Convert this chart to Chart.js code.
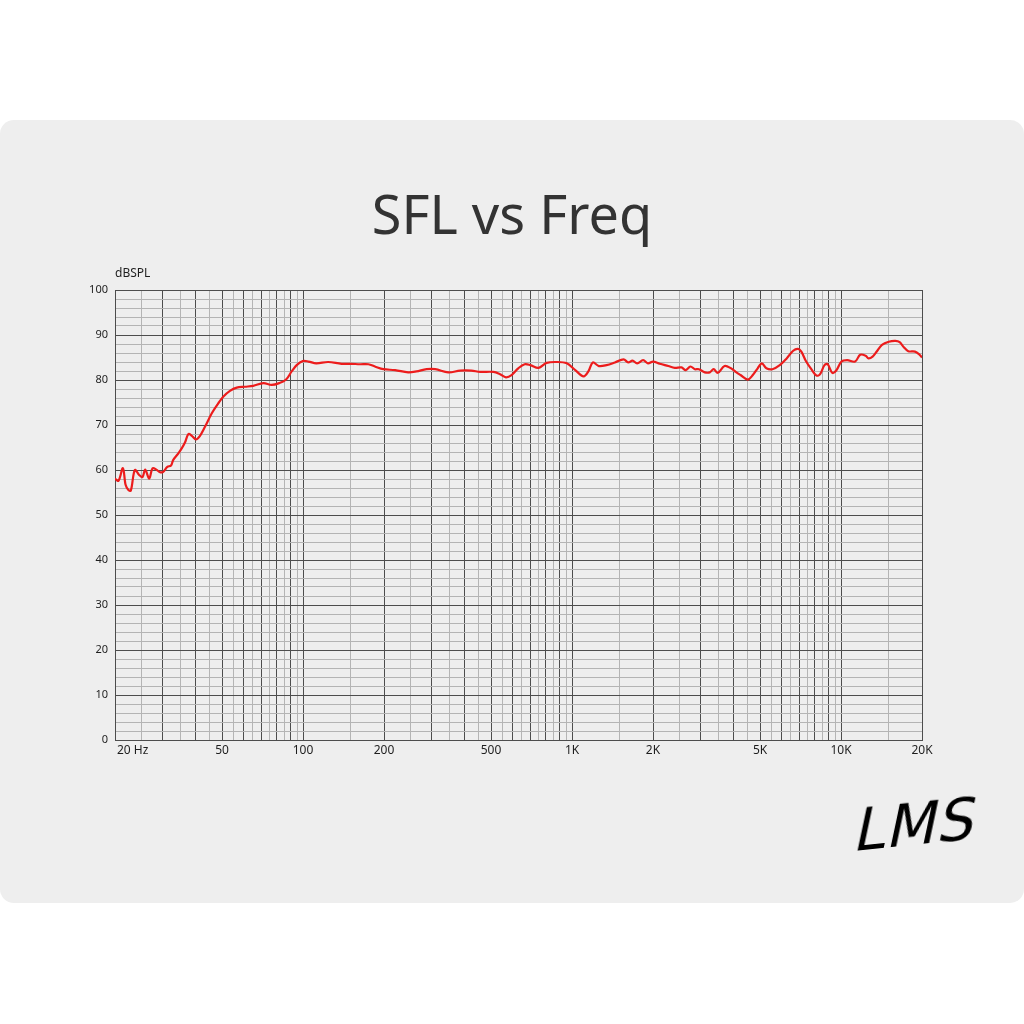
<!DOCTYPE html>
<html>
<head>
<meta charset="utf-8">
<title>SFL vs Freq</title>
<script src="https://cdn.jsdelivr.net/npm/chart.js@4.4.1/dist/chart.umd.min.js"></script>
<style>
  html, body { margin: 0; padding: 0; background: #ffffff; }
  body { width: 1024px; height: 1024px; position: relative; overflow: hidden; }
  #card {
    position: absolute; left: 0; top: 120px; width: 1024px; height: 783px;
    background: #eeeeee; border-radius: 14px;
  }
  #title {
    position: absolute; left: 0; width: 1024px; top: 66px; text-align: center;
    font-family: "Noto Sans", sans-serif; font-size: 54px; color: #333333;
    line-height: 1;
  }
  #sig {
    position: absolute; left: 856px; top: 670px; transform: rotate(-6deg) skewX(-18deg);
    font-family: "DejaVu Sans", sans-serif; font-weight: normal; font-size: 58px;
    color: #000000; letter-spacing: 1px;
  }
  canvas { position: absolute; left: 0; top: 0; }
</style>
</head>
<body>
<div id="card">
  <canvas id="myChart" width="1024" height="783"></canvas>
  <div id="title">SFL vs Freq</div>
  <div id="sig">LMS</div>
</div>
<script>
'use strict'

// Global variables:
const freqHz = [20, 20.6, 21.4, 21.9, 22.4, 22.9, 23.7, 24.6, 25.3, 25.9, 26.8, 27.6, 28.6, 29.4, 30.2,
  31.3, 32.3, 32.9, 34.4, 35.4, 36.4, 37.5, 38.6, 40, 41.4, 43.2, 45.8, 48.4, 50.5, 53.5, 56.7,
  60.8, 65.3, 71.2, 76.4, 81.6, 86.5, 90.7, 94.7, 99.7, 104.8, 112, 124, 139, 150, 163, 175, 185,
  199, 220, 246, 264, 288, 310, 347, 384, 422, 456, 510, 540, 568, 596, 631, 667, 700, 751, 804,
  876, 956, 1028, 1104, 1150, 1195, 1258, 1344, 1444, 1554, 1618, 1678, 1746, 1838, 1916, 2000,
  2118, 2280, 2410, 2550, 2648, 2756, 2860, 2960, 3116, 3252, 3360, 3484, 3690, 3900, 4060, 4230,
  4500, 4700, 4900, 5080, 5280, 5560, 5920, 6280, 6640, 6920, 7120, 7420, 7800, 8100, 8360, 8680,
  8920, 9280, 9600, 10040, 10540, 11280, 11780, 12340, 12660, 13100, 13600, 14200, 15040, 15920,
  16520, 17120, 17780, 18840, 19600, 20000];
const splDb = [58.1, 57.6, 60.4, 56.7, 55.6, 55.4, 60.0, 58.9, 58.4, 60.1, 58.1, 60.4, 60.0, 59.5, 59.6,
  60.7, 61.0, 62.2, 63.7, 64.8, 66.1, 68.0, 67.6, 66.8, 67.6, 69.6, 72.6, 74.8, 76.3, 77.6, 78.3,
  78.5, 78.7, 79.3, 78.9, 79.3, 80.1, 81.9, 83.3, 84.2, 84.1, 83.7, 84.0, 83.6, 83.6, 83.5, 83.5, 83.0,
  82.4, 82.2, 81.7, 81.9, 82.4, 82.4, 81.7, 82.1, 82.1, 81.8, 81.8, 81.3, 80.6, 81.1, 82.6, 83.5, 83.3, 82.7, 83.8,
  84.0, 83.7, 82.2, 80.8, 81.9, 83.9, 83.1, 83.3, 83.9, 84.6, 83.9, 84.3, 83.7, 84.4, 83.7, 84.1,
  83.6, 83.1, 82.7, 82.8, 82.2, 83.0, 82.4, 82.4, 81.7, 81.7, 82.4, 81.6, 83.1, 82.6, 81.8, 81.1,
  80.1, 81.1, 82.6, 83.7, 82.6, 82.4, 83.3, 84.8, 86.5, 86.9, 86.3, 84.1, 82.2, 81.0, 81.3, 83.3,
  83.5, 81.6, 82.1, 84.1, 84.4, 84.1, 85.6, 85.4, 84.8, 85.2, 86.4, 87.8, 88.5, 88.7,
  88.4, 87.3, 86.4, 86.3, 85.6, 85.0];

// tick labels along the frequency axis
const xLabelValues = [20, 50, 100, 200, 500, 1000, 2000, 5000, 10000, 20000];
const xLabelTexts = ['20 Hz', '50', '100', '200', '500', '1K', '2K', '5K', '10K', '20K'];
// grid steps inside each decade (whole steps dark, half steps light)
const decadeSteps = [1, 1.5, 2, 2.5, 3, 3.5, 4, 4.5, 5, 5.5, 6, 6.5, 7, 7.5, 8, 8.5, 9, 9.5];
const decades = [10, 100, 1000, 10000];

const darkGrid = '#4d4d4d';
const lightGrid = '#b4b4b4';

function buildFreqGrid() {
  let vals = [];
  for (let d of decades) {
    for (let s of decadeSteps) {
      let v = Math.round(s * d);
      if (v >= 20 && v <= 20000) {
        vals.push(v);
      }
    }
  }
  return vals;
}

function isWholeStep(v) {
  let decade = Math.pow(10, Math.floor(Math.log10(v) + 1e-9));
  let m = v / decade;
  return Math.abs(m - Math.round(m)) < 1e-6;
}

const freqGrid = buildFreqGrid();

let points = [];
for (let i = 0; i < freqHz.length; i++) {
  points.push({ x: freqHz[i], y: splDb[i] });
}

// draws the x labels and the unit label ourselves, so "20 Hz" can sit left-aligned
const labelPlugin = {
  id: 'freqLabels',
  afterDraw(chart) {
    const ctx = chart.ctx;
    const xScale = chart.scales.x;
    const area = chart.chartArea;
    ctx.save();
    ctx.fillStyle = '#1e1e1e';
    ctx.font = '12px "Noto Sans"';
    ctx.textBaseline = 'middle';
    for (let i = 0; i < xLabelValues.length; i++) {
      let px = xScale.getPixelForValue(xLabelValues[i]);
      ctx.textAlign = i === 0 ? 'left' : 'center';
      ctx.fillText(xLabelTexts[i], px + (i === 0 ? 2 : 0), area.bottom + 11);
    }
    ctx.textAlign = 'left';
    ctx.font = '12px "Noto Sans"';
    ctx.fillText('dBSPL', area.left, area.top - 16);
    ctx.restore();
  }
};

const data = {
  datasets: [{
    label: 'SFL',
    data: points,
    borderColor: '#ec1c1c',
    borderWidth: 2.2,
    pointRadius: 0,
    tension: 0.35,
    fill: false
  }]
};

const config = {
  type: 'line',
  data: data,
  options: {
    responsive: false,
    animation: false,
    layout: {
      padding: { left: 0, right: 102, top: 170, bottom: 133 }
    },
    plugins: {
      legend: { display: false },
      tooltip: { enabled: false }
    },
    scales: {
      x: {
        type: 'logarithmic',
        min: 20,
        max: 20000,
        afterBuildTicks: function (axis) {
          axis.ticks = freqGrid.map(v => ({ value: v }));
        },
        afterFit: function (axis) {
          axis.height = 30;
        },
        ticks: { display: false, autoSkip: false },
        grid: {
          drawTicks: false,
          color: function (context) {
            if (!context.tick) return lightGrid;
            return isWholeStep(context.tick.value) ? darkGrid : lightGrid;
          },
          lineWidth: 1
        },
        border: { color: darkGrid, width: 1 }
      },
      y: {
        min: 0,
        max: 100,
        afterFit: function (axis) {
          axis.width = 115;
        },
        ticks: {
          stepSize: 2,
          autoSkip: false,
          padding: 7,
          color: '#1e1e1e',
          font: { family: 'Noto Sans', size: 11 },
          callback: function (value) {
            return value % 10 === 0 ? value : '';
          }
        },
        grid: {
          drawTicks: false,
          color: function (context) {
            if (!context.tick) return lightGrid;
            return context.tick.value % 10 === 0 ? darkGrid : lightGrid;
          },
          lineWidth: 1
        },
        border: { color: darkGrid, width: 1 }
      }
    }
  },
  plugins: [labelPlugin]
};

let canvasChart = document.getElementById('myChart');
const myChart = new Chart(canvasChart, config);
</script>
</body>
</html>
